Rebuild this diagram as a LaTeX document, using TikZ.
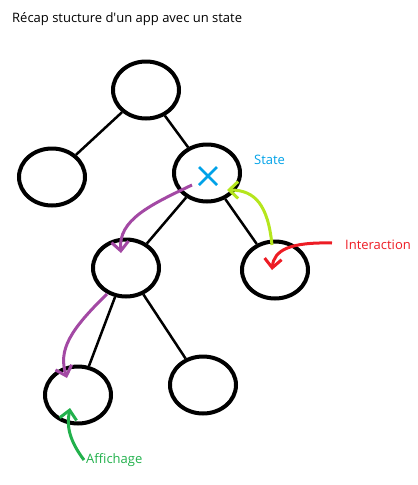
\documentclass[tikz,border=0pt]{standalone}
\usepackage{fontspec}
\setmainfont{Open Sans}
\usetikzlibrary{arrows.meta,shapes.geometric}
\definecolor{paintpurple}{HTML}{A349A4}
\definecolor{paintlime}{HTML}{B5E61D}
\definecolor{paintred}{HTML}{ED1C24}
\definecolor{paintgreen}{HTML}{22B14C}
\definecolor{paintblue}{HTML}{00A2E8}

\begin{document}
\begin{tikzpicture}[
    x=1pt,y=-1pt,
    comp/.style={ellipse,draw=black,line width=4pt,
      minimum width=66pt,minimum height=57pt,inner sep=0pt},
    link/.style={line width=2.5pt,black},
    note/.style={font=\fontsize{13}{15}\selectfont,inner sep=0pt,anchor=west},
    flow/.style={-{Straight Barb[length=9pt,width=17pt,line width=3pt]},line width=3pt}
  ]
    \useasboundingbox (0,0) rectangle (418,485);
    \node[note,anchor=base west] (title) at (12,22) {Récap stucture d\textquotesingle un app avec un state};
    \node[comp] (root) at (146,90) {};
    \node[comp] (leftleaf) at (52,177) {};
    \node[comp] (stateful) at (207,173) {};
    \node[comp] (middle) at (126,268) {};
    \node[comp] (rightleaf) at (275,270) {};
    \node[comp] (bottomleft) at (78,395) {};
    \node[comp] (bottomright) at (203,385) {};
    \draw[link] (root) -- (leftleaf);
    \draw[link] (root) -- (stateful);
    \draw[link] (stateful) -- (middle);
    \draw[link] (stateful) -- (rightleaf);
    \draw[link] (middle) -- (bottomleft);
    \draw[link] (middle) -- (bottomright);
    % state marker
    \draw[paintblue,line width=2.5pt] (199,167) -- (217,185) (217,167) -- (199,185);
    \node[note,text=paintblue] (statelbl) at (254,160) {State};
    \node[note,text=paintred] (interlbl) at (345,245) {Interaction};
    \node[note,text=paintgreen] (affichlbl) at (86,460) {Affichage};
    % annotation arrows
    \coordinate (p1) at (192,185);
    \coordinate (p2) at (121,253);
    \coordinate (p3) at (107,294);
    \coordinate (p4) at (67,378);
    \coordinate (g1) at (272,245);
    \coordinate (g2) at (227,190);
    \coordinate (r1) at (332,243);
    \coordinate (r2) at (272,270);
    \coordinate (a1) at (70,408);
    \draw[flow,paintpurple] (p1) .. controls (150,205) and (118,220) .. (p2);
    \draw[flow,paintpurple] (p3) .. controls (70,330) and (58,350) .. (p4);
    \draw[flow,paintlime] (g1) .. controls (268,205) and (255,190) .. (g2);
    \draw[flow,paintred] (r1) .. controls (290,242) and (274,250) .. (r2);
    \draw[flow,paintgreen] ([xshift=-2pt]affichlbl.west) .. controls (65,435) and (68,420) .. (a1);
  \end{tikzpicture}
\end{document}
